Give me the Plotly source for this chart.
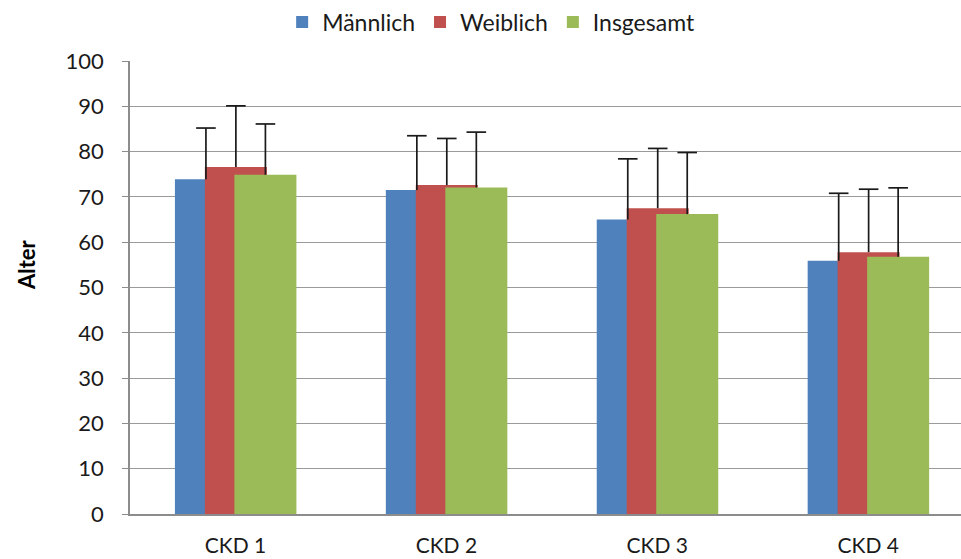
import plotly.graph_objects as go

categories = ["CKD 1", "CKD 2", "CKD 3", "CKD 4"]
series_names = ["Männlich", "Weiblich", "Insgesamt"]
maennlich = [73.9, 71.5, 65.0, 55.9]
weiblich = [76.6, 72.6, 67.5, 57.8]
insgesamt = [74.9, 72.1, 66.2, 56.8]
err_maennlich = [11.3, 12.0, 13.4, 14.9]
err_weiblich = [13.5, 10.3, 13.2, 13.9]
err_insgesamt = [11.2, 12.2, 13.6, 15.2]
y_ticks = [0, 10, 20, 30, 40, 50, 60, 70, 80, 90, 100]

colors = ["#4F81BD", "#C0504D", "#9BBB59"]
offsets = [-0.287, -0.145, -0.005]
bar_width = 0.294

values = [maennlich, weiblich, insgesamt]
errors = [err_maennlich, err_weiblich, err_insgesamt]

xpos = list(range(len(categories)))

fig = go.Figure()
for name, vals, col, off in zip(series_names, values, colors, offsets):
    fig.add_trace(go.Bar(
        x=xpos, y=vals, name=name,
        marker=dict(color=col, line=dict(width=0)),
        width=bar_width, offset=off,
    ))

err_color = "#1a1a1a"
for vals, errs, off in zip(values, errors, offsets):
    xc = [p + off + bar_width / 2 for p in xpos]
    # vertical error line without caps
    fig.add_trace(go.Scatter(
        x=xc, y=vals, mode="markers", showlegend=False, hoverinfo="skip",
        marker=dict(size=1, opacity=0),
        error_y=dict(type="data", array=errs, arrayminus=[0] * len(errs),
                     symmetric=False, color=err_color, thickness=1.7, width=0),
    ))
    # caps at the top
    fig.add_trace(go.Scatter(
        x=xc, y=[v + e for v, e in zip(vals, errs)], mode="markers",
        showlegend=False, hoverinfo="skip",
        marker=dict(symbol="line-ew", size=14, line=dict(color=err_color, width=1.7)),
    ))

fig.update_layout(
    width=961, height=559,
    margin=dict(l=130, r=0, t=61, b=45),
    barmode="overlay",
    plot_bgcolor="white", paper_bgcolor="white",
    font=dict(family="Lato, sans-serif", color="#1a1a1a"),
    legend=dict(orientation="h", x=0.4346, xanchor="center", y=1.086, yanchor="middle",
                font=dict(size=23, color="#1a1a1a"), itemwidth=30, tracegroupgap=0,
                bgcolor="rgba(0,0,0,0)"),
    xaxis=dict(tickmode="array", tickvals=xpos, ticktext=categories,
               range=[-0.5, 3.44], showgrid=False, showline=True,
               linecolor="#8c8c8c", linewidth=1.5, ticks="",
               tickfont=dict(size=21, color="#1a1a1a"), ticklabelstandoff=12,
               zeroline=False),
    yaxis=dict(range=[0, 100], tickvals=y_ticks, showgrid=True,
               gridcolor="#9a9a9a", gridwidth=1.4, showline=True,
               linecolor="#8c8c8c", linewidth=1.5, ticks="outside", ticklen=6,
               tickcolor="#8c8c8c", tickfont=dict(size=22, color="#1a1a1a"),
               ticklabelstandoff=14, zeroline=False),
    annotations=[dict(text="<b>Alter</b>", x=-0.1237, y=0.55, xref="paper", yref="paper",
                      xanchor="center", yanchor="middle", textangle=-90, showarrow=False,
                      font=dict(size=22, color="#000000"))],
)

fig.write_html("out.html", config={"displayModeBar": False},
               post_script="document.body.style.margin='0';")
